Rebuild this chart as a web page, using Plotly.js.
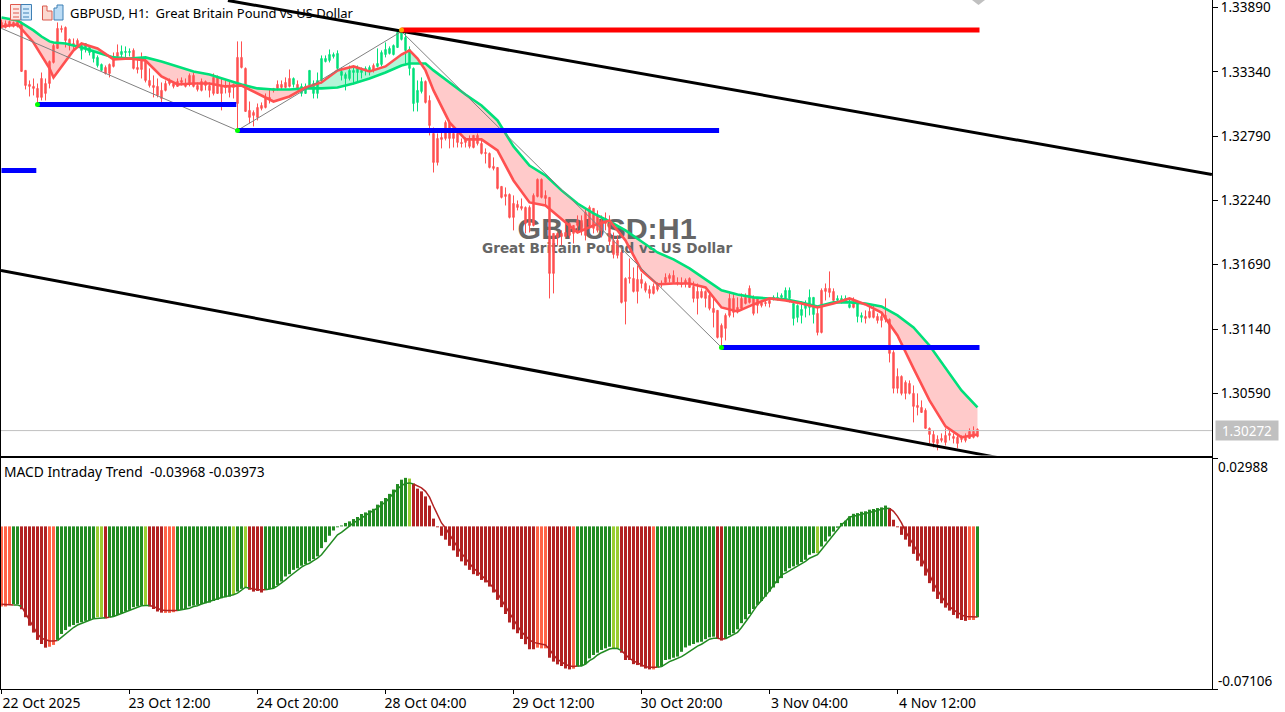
<!DOCTYPE html>
<html>
<head>
<meta charset="utf-8">
<script src="https://cdn.plot.ly/plotly-3.0.1.min.js"></script>
<style>html,body{margin:0;padding:0;background:#fff}#chart{width:1285px;height:712px}</style>
</head>
<body>
<div id="chart"></div>
<script>
// Prices are in points of 0.00001
const highs=[133788,133779,133779,133770,133779,133770,133352,133266,133283,133240,133334,133283,133437,133582,133762,133736,133728,133625,133625,133625,133582,133582,133565,133523,133480,133411,133394,133411,133505,133574,133565,133557,133540,133540,133454,133505,133463,133369,133309,133283,133249,133266,133283,133249,133283,133292,133283,133326,133334,133249,133283,133266,133249,133326,133309,133292,133266,133266,133240,133600,133600,133377,133086,133010,133069,133078,133155,133198,133198,133266,133266,133292,133360,133292,133266,133240,133240,133352,133266,133334,133480,133480,133531,133505,133523,133377,133334,133394,133394,133394,133377,133386,133394,133411,133540,133523,133591,133557,133574,133694,133711,133676,133557,133377,133266,133292,133266,133138,132864,132813,132856,132924,132924,132856,132830,132770,132779,132796,132796,132813,132770,132685,132650,132608,132522,132360,132351,132300,132283,132240,132257,132189,132197,132300,132428,132428,132326,132266,131958,131966,131984,132043,132052,132026,132112,132112,132172,132197,132172,132155,132112,132137,132112,131966,131941,131813,131582,131744,131667,131684,131616,131547,131513,131530,131539,131556,131616,131616,131642,131582,131582,131573,131582,131547,131530,131488,131471,131445,131402,131300,131188,131274,131445,131445,131411,131445,131445,131513,131428,131411,131385,131385,131402,131428,131453,131445,131496,131496,131368,131351,131376,131385,131479,131411,131325,131488,131530,131633,131488,131428,131428,131428,131402,131411,131368,131282,131300,131334,131342,131274,131274,131402,131231,130958,130804,130744,130701,130701,130658,130590,130530,130462,130299,130274,130231,130248,130291,130274,130248,130248,130231,130248,130291,130308,130291];
const bodyHighs=[133762,133753,133770,133762,133770,133753,133352,133232,133215,133198,133283,133240,133428,133565,133711,133711,133719,133617,133582,133608,133565,133582,133548,133514,133463,133403,133377,133403,133471,133505,133514,133514,133514,133523,133377,133454,133437,133266,133223,133215,133181,133240,133266,133240,133257,133266,133232,133309,133309,133223,133257,133257,133223,133292,133292,133223,133223,133223,133232,133463,133463,133369,133010,132992,133035,133052,133121,133121,133198,133232,133232,133249,133283,133283,133232,133215,133215,133352,133240,133266,133454,133454,133488,133488,133497,133343,133317,133352,133352,133377,133352,133369,133377,133394,133411,133505,133531,133540,133565,133676,133676,133634,133531,133369,133181,133257,133257,133095,132813,132770,132779,132907,132907,132813,132813,132736,132770,132753,132796,132796,132727,132650,132642,132531,132522,132360,132291,132291,132214,132206,132189,132180,132180,132283,132420,132420,132283,132266,131958,131958,131958,131966,132043,132026,132069,132069,132137,132180,132172,132112,132069,132086,132043,131898,131898,131795,131573,131582,131573,131565,131565,131530,131479,131505,131530,131530,131582,131599,131599,131539,131530,131556,131573,131505,131462,131462,131462,131428,131317,131300,131171,131257,131402,131402,131325,131402,131411,131488,131411,131402,131368,131368,131385,131411,131411,131428,131471,131471,131359,131342,131308,131359,131411,131411,131274,131471,131488,131488,131462,131402,131402,131402,131351,131359,131359,131257,131248,131291,131300,131248,131248,131257,131223,130940,130735,130735,130684,130675,130590,130487,130470,130445,130291,130239,130197,130205,130231,130248,130222,130214,130205,130214,130265,130265,130282];
const bodyLows=[133719,133719,133736,133728,133728,133343,133223,133215,133198,133121,133121,133155,133240,133420,133540,133702,133608,133565,133565,133565,133523,133540,133505,133454,133394,133352,133326,133326,133386,133471,133488,133505,133505,133369,133360,133360,133266,133223,133206,133138,133112,133181,133240,133215,133215,133249,133215,133232,133215,133189,133181,133223,133181,133155,133155,133155,133206,133163,133206,133069,133377,133001,132950,132967,132950,133027,133035,133104,133181,133198,133206,133206,133215,133232,133198,133155,133155,133223,133155,133155,133266,133428,133437,133471,133369,133309,133283,133283,133334,133334,133334,133352,133352,133352,133386,133403,133488,133497,133488,133548,133617,133523,133369,133069,133078,133172,133078,132881,132565,132565,132762,132770,132770,132770,132736,132727,132736,132702,132693,132727,132642,132642,132522,132514,132343,132266,132274,132095,132095,132180,132172,132043,132026,132026,132274,132266,132257,131616,131616,131924,131932,131932,131941,131958,132026,131984,131941,132026,132001,131984,131984,132043,131889,131778,131770,131368,131376,131573,131462,131462,131530,131471,131445,131445,131479,131522,131539,131573,131539,131530,131522,131530,131496,131402,131402,131411,131402,131317,131282,131069,131069,131146,131257,131282,131300,131317,131359,131368,131274,131342,131342,131359,131359,131402,131394,131411,131402,131402,131231,131240,131257,131317,131325,131265,131111,131111,131462,131453,131385,131385,131376,131368,131325,131325,131248,131240,131231,131240,131240,131214,131214,131223,130932,130633,130633,130590,130590,130590,130479,130470,130427,130291,130239,130171,130162,130188,130171,130231,130205,130162,130197,130188,130205,130214,130222];
const lows=[133711,133711,133719,133719,133719,133343,133189,133129,133138,133044,133095,133095,133198,133411,133540,133676,133548,133523,133523,133548,133446,133505,133480,133420,133377,133352,133317,133292,133377,133463,133454,133454,133471,133360,133326,133283,133249,133206,133121,133121,133078,133172,133223,133198,133215,133223,133206,133215,133206,133172,133172,133181,133121,133138,133155,133010,133155,133121,133112,132856,133369,133001,132898,132873,132924,133010,133027,133069,133163,133181,133189,133198,133206,133206,133181,133129,133155,133206,133112,133112,133240,133420,133420,133454,133352,133266,133181,133266,133232,133249,133283,133309,133309,133334,133377,133386,133463,133488,133480,133548,133608,133403,133309,133001,133001,133155,133069,132796,132479,132539,132685,132753,132685,132693,132693,132693,132693,132685,132685,132710,132633,132556,132514,132497,132334,132257,132197,132086,131984,132155,132155,131958,131966,132018,132266,132257,132189,131402,131445,131855,131855,131924,131915,131872,131966,131941,131898,132001,131958,131966,131924,131984,131855,131744,131744,131359,131180,131530,131453,131359,131488,131453,131402,131436,131462,131496,131530,131539,131530,131513,131496,131496,131496,131368,131265,131402,131325,131300,131154,131060,130990,131043,131240,131240,131274,131300,131351,131359,131257,131274,131325,131334,131325,131385,131385,131402,131385,131368,131171,131197,131188,131240,131257,131188,131086,131103,131385,131411,131368,131368,131359,131368,131317,131317,131197,131197,131188,131231,131231,131188,131154,131197,130855,130590,130590,130573,130539,130581,130342,130402,130427,130291,130162,130128,130103,130171,130145,130188,130162,130120,130171,130171,130205,130205,130214];
const greenCandleRuns=[[20,25],[30,32],[73,73],[75,92],[94,105],[193,203],[209,212],[214,215]];

const maBars=[0,4,8,10,12,13,16,18,20,24,28,32,36,40,44,48,52,56,60,64,68,72,76,80,84,88,92,96,100,102,104,106,108,112,116,120,124,128,132,136,140,144,148,152,156,160,164,168,172,176,180,184,188,192,196,200,204,208,212,216,220,224,228,232,236,240,244];
const slowMA=[133805,133779,133694,133642,133600,133591,133582,133565,133548,133505,133463,133454,133463,133428,133386,133343,133317,133275,133232,133198,133189,133189,133198,133198,133206,133240,133283,133334,133394,133411,133411,133411,133352,133249,133146,133052,132924,132702,132539,132454,132326,132214,132129,132060,131984,131889,131795,131736,131659,131565,131471,131436,131411,131402,131394,131368,131334,131368,131368,131359,131334,131257,131154,131000,130812,130615,130470];
const fastMA=[133728,133745,133591,133480,133369,133292,133437,133523,133582,133540,133446,133454,133437,133300,133232,133240,133240,133215,133223,133155,133086,133129,133206,133249,133352,133386,133343,133386,133488,133523,133454,133352,133181,132907,132762,132762,132668,132411,132223,132197,132078,131966,132026,132069,131898,131642,131522,131530,131530,131496,131325,131291,131351,131402,131385,131359,131325,131359,131402,131351,131282,131086,130804,130530,130308,130214,130239];

const histogram=[-.0350,-.0350,-.0343,-.0340,-.0340,-.0362,-.0397,-.0434,-.0464,-.0496,-.0514,-.0530,-.0526,-.0518,-.0496,-.0470,-.0453,-.0438,-.0431,-.0423,-.0419,-.0413,-.0409,-.0404,-.0397,-.0397,-.0402,-.0397,-.0394,-.0387,-.0380,-.0372,-.0365,-.0353,-.0350,-.0346,-.0343,-.0350,-.0361,-.0372,-.0377,-.0378,-.0378,-.0375,-.0369,-.0365,-.0361,-.0350,-.0346,-.0343,-.0340,-.0336,-.0333,-.0326,-.0321,-.0314,-.0310,-.0307,-.0299,-.0285,-.0273,-.0266,-.0277,-.0285,-.0282,-.0289,-.0277,-.0274,-.0270,-.0256,-.0241,-.0219,-.0209,-.0190,-.0183,-.0172,-.0165,-.0153,-.0143,-.0131,-.0095,-.0069,-.0041,-.0018,-.0004,.0004,.0015,.0022,.0032,.0041,.0054,.0061,.0070,.0077,.0095,.0110,.0124,.0142,.0161,.0185,.0204,.0212,.0209,.0187,.0165,.0153,.0131,.0091,.0034,-.0004,-.0041,-.0058,-.0085,-.0105,-.0133,-.0153,-.0171,-.0190,-.0209,-.0216,-.0234,-.0245,-.0263,-.0289,-.0321,-.0353,-.0383,-.0420,-.0450,-.0467,-.0492,-.0515,-.0537,-.0537,-.0530,-.0533,-.0533,-.0574,-.0591,-.0603,-.0610,-.0621,-.0625,-.0622,-.0613,-.0610,-.0602,-.0577,-.0562,-.0552,-.0540,-.0533,-.0526,-.0533,-.0533,-.0552,-.0584,-.0584,-.0602,-.0606,-.0613,-.0621,-.0625,-.0625,-.0616,-.0613,-.0584,-.0581,-.0574,-.0569,-.0548,-.0529,-.0521,-.0514,-.0507,-.0504,-.0493,-.0485,-.0482,-.0492,-.0499,-.0492,-.0475,-.0467,-.0450,-.0423,-.0406,-.0383,-.0361,-.0343,-.0326,-.0307,-.0285,-.0267,-.0248,-.0226,-.0197,-.0183,-.0175,-.0168,-.0156,-.0146,-.0124,-.0117,-.0117,-.0088,-.0066,-.0044,-.0023,-.0006,.0015,.0025,.0044,.0055,.0058,.0064,.0066,.0073,.0076,.0080,.0083,.0091,.0080,.0029,-.0004,-.0037,-.0058,-.0088,-.0120,-.0150,-.0175,-.0215,-.0248,-.0285,-.0317,-.0336,-.0355,-.0368,-.0387,-.0402,-.0409,-.0413,-.0409,-.0409,-.0397];
const signal=[-.0340,-.0340,-.0342,-.0343,-.0343,-.0350,-.0380,-.0409,-.0445,-.0470,-.0489,-.0496,-.0501,-.0501,-.0499,-.0485,-.0467,-.0453,-.0442,-.0431,-.0423,-.0416,-.0410,-.0404,-.0402,-.0399,-.0399,-.0397,-.0394,-.0387,-.0380,-.0372,-.0365,-.0358,-.0353,-.0347,-.0346,-.0346,-.0350,-.0358,-.0365,-.0368,-.0368,-.0368,-.0368,-.0365,-.0361,-.0358,-.0350,-.0347,-.0339,-.0333,-.0329,-.0324,-.0318,-.0311,-.0307,-.0304,-.0299,-.0292,-.0277,-.0266,-.0270,-.0274,-.0277,-.0277,-.0277,-.0274,-.0270,-.0260,-.0248,-.0234,-.0219,-.0204,-.0190,-.0178,-.0168,-.0161,-.0150,-.0139,-.0124,-.0102,-.0080,-.0058,-.0037,-.0026,-.0012,.0003,.0015,.0025,.0037,.0047,.0058,.0070,.0080,.0095,.0105,.0124,.0146,.0164,.0178,.0187,.0190,.0185,.0178,.0168,.0153,.0128,.0088,.0051,.0015,-.0007,-.0037,-.0063,-.0091,-.0117,-.0139,-.0164,-.0183,-.0197,-.0212,-.0231,-.0248,-.0270,-.0292,-.0321,-.0350,-.0383,-.0412,-.0435,-.0460,-.0479,-.0496,-.0507,-.0511,-.0515,-.0518,-.0537,-.0562,-.0581,-.0594,-.0603,-.0610,-.0612,-.0610,-.0610,-.0602,-.0587,-.0577,-.0562,-.0552,-.0543,-.0536,-.0533,-.0534,-.0543,-.0562,-.0577,-.0588,-.0596,-.0603,-.0613,-.0616,-.0616,-.0616,-.0613,-.0602,-.0591,-.0584,-.0577,-.0569,-.0558,-.0545,-.0533,-.0523,-.0515,-.0504,-.0493,-.0489,-.0489,-.0492,-.0491,-.0482,-.0475,-.0463,-.0442,-.0420,-.0394,-.0368,-.0343,-.0324,-.0304,-.0282,-.0256,-.0234,-.0212,-.0204,-.0194,-.0183,-.0172,-.0161,-.0153,-.0139,-.0131,-.0124,-.0102,-.0080,-.0058,-.0037,-.0015,.0007,.0022,.0041,.0044,.0048,.0051,.0055,.0061,.0066,.0069,.0076,.0079,.0079,.0066,.0044,.0015,-.0022,-.0051,-.0080,-.0110,-.0139,-.0175,-.0212,-.0248,-.0277,-.0307,-.0329,-.0350,-.0365,-.0377,-.0387,-.0394,-.0394,-.0394,-.0396];
const histColorRuns=[['O',3],['G',2],['R',7],['O',2],['G',10],['Y',2],['R',1],['G',9],['Y',1],['R',4],['O',3],['G',14],['Y',1],['G',2],['Y',1],['R',4],['G',36],['Y',1],['R',31],['O',3],['R',6],['O',1],['G',9],['Y',2],['R',8],['O',1],['G',15],['R',2],['G',23],['Y',1],['G',17],['R',20],['O',2],['G',1]];

const xTickBars=[0,32,64,96,128,160,192,224];
const xTickLabels=['22 Oct 2025','23 Oct 12:00','24 Oct 20:00','28 Oct 04:00','29 Oct 12:00','30 Oct 20:00','3 Nov 04:00','4 Nov 12:00'];
const priceTicks=[1.33890,1.33340,1.32790,1.32240,1.31690,1.31140,1.30590];
const macdTicks=[0.02988,-0.07106];
const lastPrice=1.30272;

const zigzagBars=[0,59,100,180];
const zigzagPrices=[1.33711,1.32839,1.33685,1.30983];
const pivotBars=[9,59,180];
const pivotPrices=[1.33061,1.32839,1.30983];
const topPivotBars=[100];
const topPivotPrices=[1.33698];
const blueLevels=[[0,8.7,1.32496],[9,58.7,1.33061],[59,179.4,1.32839],[180,244.5,1.30983]];
const redLevel=[100,244.5,1.33698];
const channelUpperBars=[56.6,302.6];
const channelUpperPrices=[1.33950,1.32462];
const channelLowerBars=[-0.125,248.9];
const channelLowerPrices=[1.31641,1.30043];

const FONT='"Noto Sans", sans-serif';
const POINT=1e-5;
const BLACK='#000';
const CANDLE_RED='#ff5050', CANDLE_GREEN='#00e07a';
const SWATCH={G:'#228b22',R:'#b22222',O:'#ff6347',Y:'#9acd32'};
const W=1285,H=712;
const xRange=[-0.125,302.625];
const yRange=[1.30059,1.33954];
const macdRange=[-0.07106,0.02988];
const px=x=>x/W, py=y=>1-y/H;

const bars=highs.map((_,i)=>i);
const isGreen=i=>greenCandleRuns.some(r=>i>=r[0]&&i<=r[1]);
const histKeys=histColorRuns.flatMap(r=>Array(r[1]).fill(r[0]));
const toPrice=v=>v*POINT;

const traces=[];

// Band between the two averages, split where they cross
(function(){
  let run=null; const runs=[];
  for(let k=0;k<maBars.length;k++){
    const d=fastMA[k]-slowMA[k], up=d>=0;
    if(run && run.up!==up){
      const pd=fastMA[k-1]-slowMA[k-1], t=pd/(pd-d);
      const cx=maBars[k-1]+t*(maBars[k]-maBars[k-1]);
      const cy=slowMA[k-1]+t*(slowMA[k]-slowMA[k-1]);
      run.pts.push([cx,cy,cy]); runs.push(run); run={up,pts:[[cx,cy,cy]]};
    }
    if(!run) run={up,pts:[]};
    run.pts.push([maBars[k],fastMA[k],slowMA[k]]);
  }
  runs.push(run);
  runs.forEach(r=>{
    const xs=r.pts.map(p=>p[0]), a=r.pts.map(p=>toPrice(p[1])), b=r.pts.map(p=>toPrice(p[2]));
    traces.push({type:'scatter',mode:'lines',x:xs.concat(xs.slice().reverse()),y:a.concat(b.slice().reverse()),
      fill:'toself',fillcolor:r.up?'#b4f5d8':'#ffcaca',line:{width:0},hoverinfo:'skip',showlegend:false});
  });
})();

// Watermark text: over the band fill, under the candles
traces.push({type:'scatter',mode:'text',x:[151.4],y:[1.31975],text:['GBPUSD:H1'],textposition:'middle center',
  textfont:{family:'"Liberation Sans", sans-serif',size:30.4,color:'#666666',weight:700},hoverinfo:'skip',showlegend:false});
traces.push({type:'scatter',mode:'text',x:[151.4],y:[1.31821],text:['Great Britain Pound vs US Dollar'],textposition:'middle center',
  textfont:{family:'"DejaVu Sans", sans-serif',size:13.6,color:'#666666',weight:700},hoverinfo:'skip',showlegend:false});

// Candles
const opens=bars.map(i=>toPrice(isGreen(i)?bodyLows[i]:bodyHighs[i]));
const closes=bars.map(i=>toPrice(isGreen(i)?bodyHighs[i]:bodyLows[i]));
traces.push({type:'candlestick',xaxis:'x3',yaxis:'y3',x:bars,open:opens,high:highs.map(toPrice),low:lows.map(toPrice),close:closes,
  whiskerwidth:0,
  increasing:{line:{color:CANDLE_GREEN,width:1},fillcolor:CANDLE_GREEN},
  decreasing:{line:{color:CANDLE_RED,width:1},fillcolor:CANDLE_RED},hoverinfo:'skip',showlegend:false});

const over={xaxis:'x3',yaxis:'y3',hoverinfo:'skip',showlegend:false};
traces.push({type:'scatter',mode:'lines',x:[xRange[0],xRange[1]],y:[lastPrice,lastPrice],line:{color:'#c0c0c0',width:1},...over});
traces.push({type:'scatter',mode:'lines',x:maBars,y:slowMA.map(toPrice),line:{color:CANDLE_GREEN,width:2.6},...over});
traces.push({type:'scatter',mode:'lines',x:maBars,y:fastMA.map(toPrice),line:{color:CANDLE_RED,width:2.6},...over});
traces.push({type:'scatter',mode:'lines',x:zigzagBars,y:zigzagPrices,line:{color:'#808080',width:1},...over});
traces.push({type:'scatter',mode:'lines',x:channelUpperBars,y:channelUpperPrices,line:{color:BLACK,width:3},...over});
traces.push({type:'scatter',mode:'lines',x:channelLowerBars,y:channelLowerPrices,line:{color:BLACK,width:3},...over});
blueLevels.forEach(l=>traces.push({type:'scatter',mode:'lines',x:[l[0],l[1]],y:[l[2],l[2]],line:{color:'#0000ff',width:5},...over}));
traces.push({type:'scatter',mode:'lines',x:[redLevel[0],redLevel[1]],y:[redLevel[2],redLevel[2]],line:{color:'#ff0000',width:5},...over});
traces.push({type:'scatter',mode:'markers',x:pivotBars,y:pivotPrices,marker:{color:'#00ff00',size:5,line:{width:0}},...over});
traces.push({type:'scatter',mode:'markers',x:topPivotBars,y:topPivotPrices,marker:{color:'#ffa500',size:5,line:{width:0}},...over});

// MACD panel
traces.push({type:'bar',xaxis:'x2',yaxis:'y2',x:bars,y:histogram,width:0.75,marker:{color:histKeys.map(k=>SWATCH[k]),line:{width:0}},hoverinfo:'skip',showlegend:false});
(function(){
  const rising=k=>k==='G'||k==='Y';
  let s=0;
  for(let i=1;i<=bars.length;i++){
    if(i===bars.length||rising(histKeys[i])!==rising(histKeys[s])){
      const end=Math.min(i,bars.length-1);
      traces.push({type:'scatter',mode:'lines',xaxis:'x2',yaxis:'y2',x:bars.slice(s,end+1),y:signal.slice(s,end+1),
        line:{color:rising(histKeys[s])?SWATCH.G:SWATCH.R,width:1.5},hoverinfo:'skip',showlegend:false});
      s=i;
    }
  }
})();

const tick={family:FONT,size:13,color:BLACK};
const priceTick={...tick,size:13.5};
const timeTick={...tick,size:14};
const baseX={range:xRange,domain:[px(1),px(1212)],zeroline:false,showgrid:false};
const topDomain=[py(455.5),1], subDomain=[py(689),py(458)];
const layout={
  width:W,height:H,margin:{l:0,r:0,t:0,b:0,pad:0},paper_bgcolor:'#fff',plot_bgcolor:'#fff',
  showlegend:false,hovermode:false,barmode:'overlay',boxgap:0.5,font:{family:FONT,size:13,color:BLACK},
  xaxis:{...baseX,anchor:'y',showticklabels:false,ticks:'',showline:true,linecolor:BLACK,linewidth:1},
  yaxis:{domain:topDomain,range:yRange,anchor:'x',side:'right',tickmode:'array',tickvals:priceTicks,ticktext:priceTicks.map(v=>v.toFixed(5)),
    ticks:'outside',ticklen:5,tickwidth:1,tickcolor:BLACK,tickfont:priceTick,ticklabeloverflow:'allow',showline:true,mirror:true,linecolor:BLACK,linewidth:1,showgrid:false,zeroline:false},
  xaxis3:{...baseX,overlaying:'x',anchor:'y3',visible:false,rangeslider:{visible:false}},
  yaxis3:{domain:topDomain,range:yRange,overlaying:'y',anchor:'x3',side:'right',visible:false},
  xaxis2:{...baseX,anchor:'y2',tickmode:'array',tickvals:xTickBars,ticktext:xTickLabels,ticks:'outside',ticklen:4,tickwidth:1,tickcolor:BLACK,
    tickfont:timeTick,ticklabelshift:40,ticklabelstandoff:-3,ticklabeloverflow:'allow',tickangle:0,showline:true,mirror:true,linecolor:BLACK,linewidth:1},
  yaxis2:{domain:subDomain,range:macdRange,anchor:'x2',side:'right',tickmode:'array',tickvals:macdTicks,showticklabels:false,
    ticks:'outside',ticklen:5,tickwidth:1,tickcolor:BLACK,showline:true,mirror:true,linecolor:BLACK,linewidth:1,showgrid:false,zeroline:false},
  annotations:[
    {xref:'paper',yref:'paper',x:px(68),y:py(13),xanchor:'left',yanchor:'middle',showarrow:false,text:'GBPUSD, H1:  Great Britain Pound vs US Dollar',font:tick},
    {xref:'paper',yref:'paper',x:px(2),y:py(471),xanchor:'left',yanchor:'middle',showarrow:false,text:'MACD Intraday Trend  -0.03968 -0.03973',font:{...tick,size:13.8}},
    {xref:'paper',yref:'y',x:px(1215),y:lastPrice,xanchor:'left',yanchor:'middle',showarrow:false,text:lastPrice.toFixed(5),font:{...priceTick,color:'#fff'},bgcolor:'#c0c0c0',width:60,height:17,align:'center'},
    {xref:'paper',yref:'paper',x:px(1216),y:py(467),xanchor:'left',yanchor:'middle',showarrow:false,text:macdTicks[0].toFixed(5),font:priceTick},
    {xref:'paper',yref:'paper',x:px(1216),y:py(681),xanchor:'left',yanchor:'middle',showarrow:false,text:macdTicks[1].toFixed(5),font:priceTick}
  ],
  shapes:[
    // window icons and the chart-shift marker at the top edge
    {type:'rect',xref:'paper',yref:'paper',x0:px(10.5),x1:px(21),y0:py(4.5),y1:py(20),fillcolor:'#fde8e4',line:{color:'#e0584c',width:1}},
    {type:'rect',xref:'paper',yref:'paper',x0:px(21),x1:px(31.5),y0:py(4.5),y1:py(20),fillcolor:'#d4eafb',line:{color:'#3f80b5',width:1}},
    {type:'path',xref:'paper',yref:'paper',path:`M${px(13)},${py(9)}H${px(19)}M${px(13)},${py(13)}H${px(19)}M${px(13)},${py(17)}H${px(19)}`,line:{color:'#e0584c',width:1}},
    {type:'path',xref:'paper',yref:'paper',path:`M${px(23)},${py(9)}H${px(29)}M${px(23)},${py(13)}H${px(29)}M${px(23)},${py(17)}H${px(29)}`,line:{color:'#3f80b5',width:1}},
    {type:'path',xref:'paper',yref:'paper',path:`M${px(42.5)},${py(6)}H${px(47)}V${py(11)}H${px(52)}V${py(20)}H${px(42.5)}Z`,fillcolor:'#fbd8cf',line:{color:'#d9584c',width:1}},
    {type:'path',xref:'paper',yref:'paper',path:`M${px(54)},${py(8)}H${px(57)}V${py(5)}H${px(63)}V${py(20)}H${px(54)}Z`,fillcolor:'#bcdcf5',line:{color:'#3f80b5',width:1}},
    {type:'path',xref:'paper',yref:'paper',path:`M${px(972)},${py(0)}H${px(985)}L${px(978.5)},${py(5)}Z`,fillcolor:'#c0c0c0',line:{width:0}}
  ]
};
Plotly.newPlot('chart',traces,layout,{displayModeBar:false,staticPlot:true,responsive:false});
</script>
</body>
</html>
